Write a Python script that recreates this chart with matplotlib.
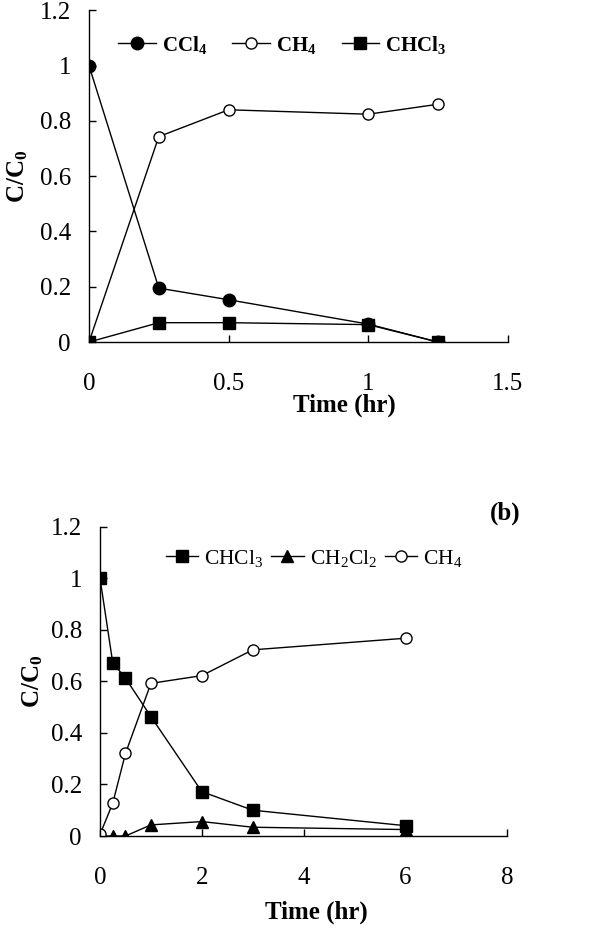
import matplotlib
matplotlib.use('Agg')
import matplotlib.pyplot as plt

plt.rcParams['font.family'] = ['Liberation Serif', 'DejaVu Serif']
plt.rcParams['mathtext.fontset'] = 'custom'
plt.rcParams['mathtext.rm'] = 'Liberation Serif'
plt.rcParams['mathtext.bf'] = 'Liberation Serif:bold'
plt.rcParams['mathtext.it'] = 'Liberation Serif:italic'

# panel (a): CCl4 reduction
time_a = [0, 0.25, 0.5, 1.0, 1.25]
ccl4_a = [1.0, 0.195, 0.153, 0.065, 0.0]
ch4_a = [0.0, 0.743, 0.84, 0.824, 0.86]
chcl3_a = [0.0, 0.07, 0.07, 0.063, 0.0]

# panel (b): CHCl3 reduction
time_b = [0, 0.25, 0.5, 1, 2, 3, 6]
chcl3_b = [1.0, 0.672, 0.612, 0.463, 0.172, 0.10, 0.04]
ch2cl2_b = [0.0, 0.0, 0.0, 0.043, 0.056, 0.034, 0.025]
ch4_b = [0.006, 0.127, 0.32, 0.592, 0.622, 0.722, 0.767]

yticks = [0, 0.2, 0.4, 0.6, 0.8, 1, 1.2]
ytick_labels = ['0', '0.2', '0.4', '0.6', '0.8', '1', '1.2']

fig = plt.figure(figsize=(6.15, 9.32), dpi=100)
ax1 = fig.add_axes([0.1447, 0.633, 0.681, 0.356])
ax2 = fig.add_axes([0.1626, 0.103, 0.6624, 0.332])

lw = 1.0
ax1.plot(time_a, ccl4_a, color='black', lw=lw, marker='o', ms=9, mfc='black', label=r'$\mathbf{CCl_4}$')
ax1.plot(time_a, ch4_a, color='black', lw=lw, marker='o', ms=8, mfc='white', label=r'$\mathbf{CH_4}$')
ax1.plot(time_a, chcl3_a, color='black', lw=lw, marker='s', ms=8.5, mfc='black', label=r'$\mathbf{CHCl_3}$', zorder=4)

ax2.plot(time_b, chcl3_b, color='black', lw=lw, marker='s', ms=8.5, mfc='black', label=r'CHCl$_3$')
ax2.plot(time_b, ch2cl2_b, color='black', lw=lw, marker='^', ms=9, mfc='black', label=r'CH$_2$Cl$_2$')
ax2.plot(time_b, ch4_b, color='black', lw=lw, marker='o', ms=8, mfc='white', label=r'CH$_4$')

for ax in (ax1, ax2):
    ax.spines['top'].set_visible(False)
    ax.spines['right'].set_visible(False)
    ax.set_ylim(0, 1.2)
    ax.set_yticks(yticks)
    ax.set_yticklabels(ytick_labels)
    ax.tick_params(direction='in', length=5, width=1, labelsize=18)
    ax.tick_params(axis='x', pad=22)
    ax.tick_params(axis='y', pad=13)
    ax.set_ylabel(r'C/C$_\mathbf{0}$', fontsize=18, fontweight='bold')
    ax.set_xlabel('Time (hr)', fontsize=18, fontweight='bold')
    for s in ax.spines.values():
        s.set_linewidth(1.0)
    ax.set_xmargin(0)

ax1.set_xlim(0, 1.5)
ax1.set_xticks([0, 0.5, 1, 1.5])
ax1.set_xticklabels(['0', '0.5', '1', '1.5'])
ax1.xaxis.set_label_coords(0.61, -0.155)
ax1.yaxis.set_label_coords(-0.14, 0.5)
ax1.legend(loc='upper left', bbox_to_anchor=(0.05, 0.955), ncol=3, frameon=False,
           fontsize=15, handlelength=1.8, handletextpad=0.3, columnspacing=1.2,
           borderaxespad=0)

ax2.set_xlim(0, 8)
ax2.set_xticks([0, 2, 4, 6, 8])
ax2.xaxis.set_label_coords(0.53, -0.21)
ax2.yaxis.set_label_coords(-0.135, 0.5)
ax2.legend(loc='upper left', bbox_to_anchor=(0.14, 0.96), ncol=3, frameon=False,
           fontsize=15.5, handlelength=1.5, handletextpad=0.3, columnspacing=0.35,
           borderaxespad=0)

fig.text(0.797, 0.449, '(b)', fontsize=18, fontweight='bold', ha='left', va='center')

fig.savefig('out.png', dpi=100)
